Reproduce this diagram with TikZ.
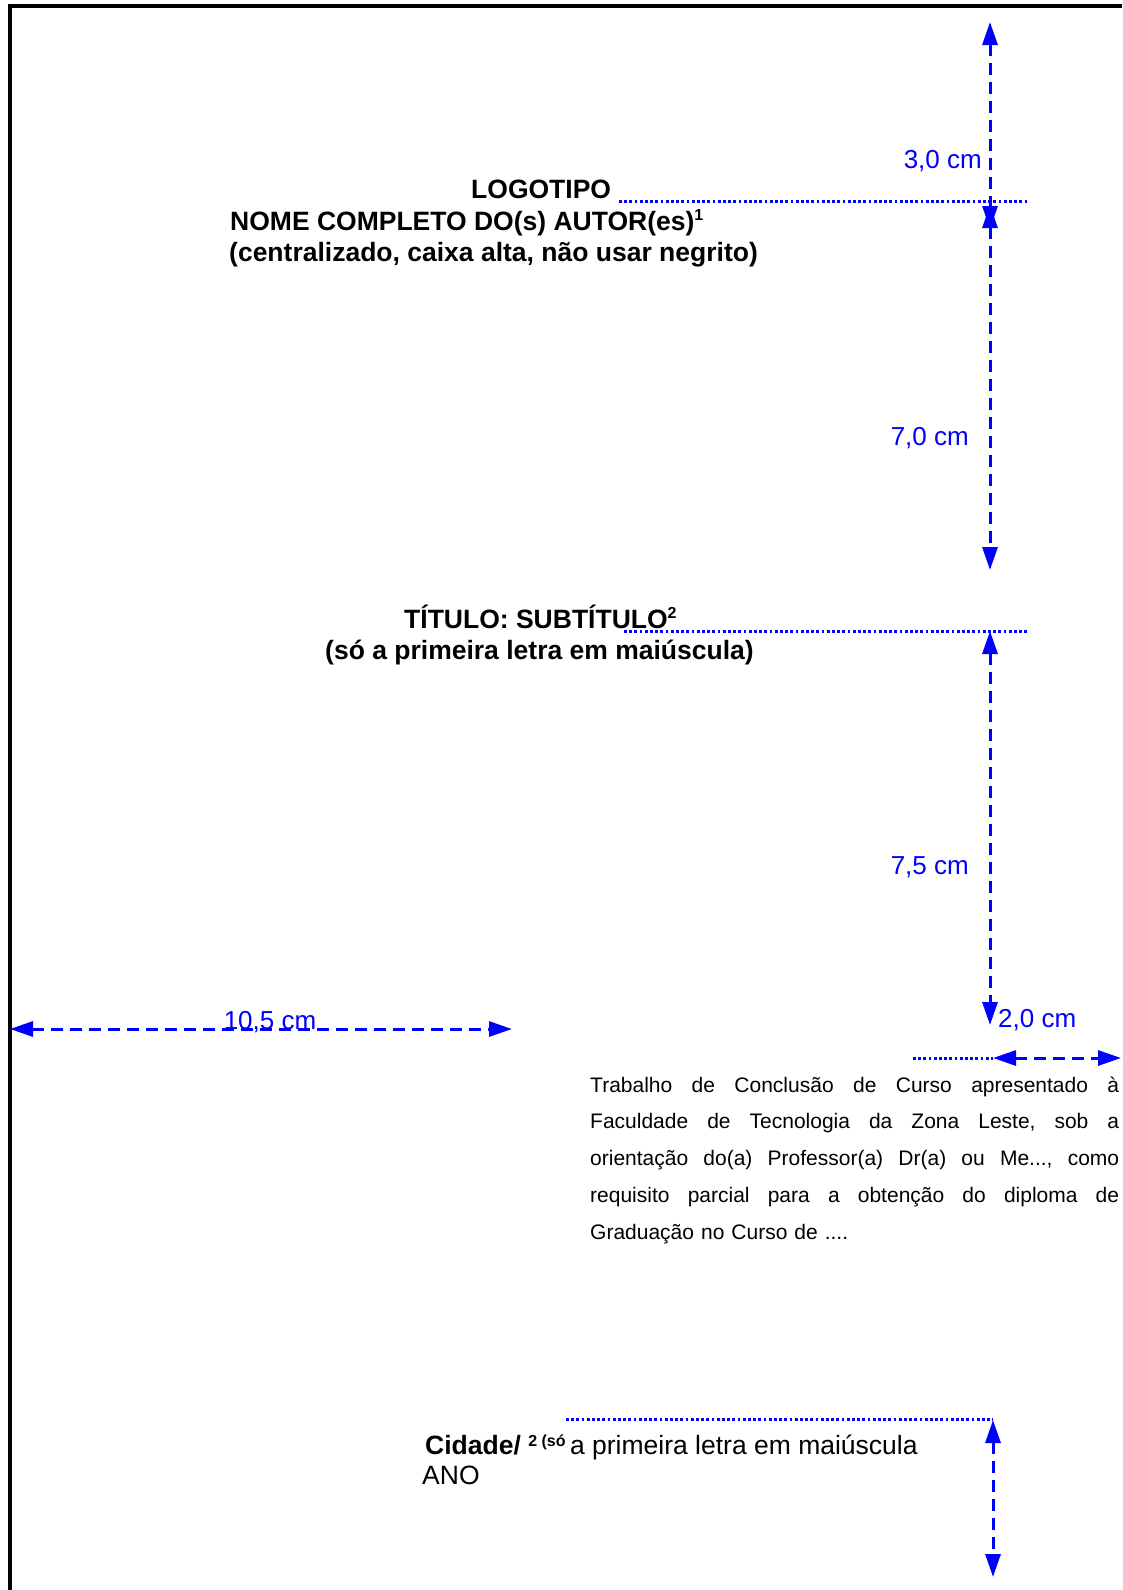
\documentclass[tikz,border=0pt]{standalone}
\usepackage{fontspec}
\setmainfont{Liberation Sans}
\usetikzlibrary{arrows.meta}
\definecolor{dimblue}{RGB}{0,0,255}
\newcommand\jline[1]{\makebox[529pt][l]{#1}}
\newcommand\supnum[1]{\raisebox{10pt}{\fontsize{16}{16}\selectfont\bfseries #1}}
\tikzset{
  dimarrow/.style={draw=dimblue, line width=3pt, dash pattern=on 12pt off 7pt,
    {Triangle[length=23pt,width=15pt]}-{Triangle[length=23pt,width=15pt]}},
  guide/.style={draw=dimblue, line width=3pt, dash pattern=on 2.8pt off 2.4pt},
  dimlabel/.style={text=dimblue, inner sep=0pt, font=\fontsize{26}{30}\selectfont},
  boldtxt/.style={inner sep=0pt, font=\fontsize{26.5}{31}\selectfont\bfseries},
  plaintxt/.style={inner sep=0pt, font=\fontsize{26.5}{31}\selectfont},
  pageframe/.style={draw=black, line width=4pt, line join=miter},
}
\begin{document}
\begin{tikzpicture}[x=1pt,y=-1pt]
\useasboundingbox (0,0) rectangle (1122,1590);
% page frame
\coordinate (fTL) at (9.5,6);
\coordinate (fTR) at (1122,6);
\coordinate (fBL) at (9.5,1590);
\draw[pageframe] (fBL) -- (fTL) -- (fTR);

% guide (dotted) lines
\coordinate (g1s) at (619,201);  \coordinate (g1e) at (1027,201);
\coordinate (g2s) at (624,631);  \coordinate (g2e) at (1027,631);
\coordinate (g3s) at (913,1058); \coordinate (g3e) at (993,1058);
\coordinate (g4s) at (566,1419); \coordinate (g4e) at (993,1419);
\draw[guide] (g1s) -- (g1e);
\draw[guide] (g2s) -- (g2e);
\draw[guide] (g3s) -- (g3e);
\draw[guide] (g4s) -- (g4e);

% dimension arrows
\coordinate (a1s) at (990,22);   \coordinate (a1e) at (990,229);
\coordinate (a2s) at (990,205);  \coordinate (a2e) at (990,570);
\coordinate (a3s) at (990,631);  \coordinate (a3e) at (990,1025);
\coordinate (a4s) at (993,1420); \coordinate (a4e) at (993,1577);
\coordinate (h1s) at (10,1029);  \coordinate (h1e) at (512,1029);
\coordinate (h2s) at (993,1058); \coordinate (h2e) at (1121,1058);
\draw[dimarrow] (a1s) -- (a1e);
\draw[dimarrow] (a2s) -- (a2e);
\draw[dimarrow] (a3s) -- (a3e);
\draw[dimarrow] (a4s) -- (a4e);
\draw[dimarrow] (h1s) -- (h1e);
\draw[dimarrow] (h2s) -- (h2e);

% dimension labels
\node[dimlabel, anchor=base east] (l30) at (982,168) {3,0 cm};
\node[dimlabel, anchor=base east] (l70) at (969,445) {7,0 cm};
\node[dimlabel, anchor=base east] (l75) at (969,874) {7,5 cm};
\node[dimlabel, anchor=base] (l105) at (270,1029) {10,5 cm};
\node[dimlabel, anchor=base west] (l20) at (998,1027) {2,0 cm};

% texts
\node[boldtxt, anchor=base west] (logo) at (471,198.5) {LOGOTIPO};
\node[boldtxt, anchor=base west] (autor) at (230,230.5) {NOME COMPLETO DO(s) AUTOR(es)\supnum{1}};
\node[boldtxt, anchor=base west] (autorobs) at (229,261.5) {(centralizado, caixa alta, não usar negrito)};
\node[boldtxt, anchor=base west] (titulo) at (404,628.5) {TÍTULO: SUBTÍTULO\supnum{2}};
\node[boldtxt, anchor=base west] (tituloobs) at (325,659.5) {(só a primeira letra em maiúscula)};

\node[anchor=base west, inner sep=0pt, text width=529pt, align=left,
      font=\fontsize{21}{36.8}\selectfont] (tcc) at (590,1092)
  {\jline{Trabalho\hfill de\hfill Conclusão\hfill de\hfill Curso\hfill apresentado\hfill à}\\
   \jline{Faculdade\hfill de\hfill Tecnologia\hfill da\hfill Zona\hfill Leste,\hfill sob\hfill a}\\
   \jline{orientação\hfill do(a)\hfill Professor(a)\hfill Dr(a)\hfill ou\hfill Me...,\hfill como}\\
   \jline{requisito\hfill parcial\hfill para\hfill a\hfill obtenção\hfill do\hfill diploma\hfill de}\\
   Graduação no Curso de ....};

\node[plaintxt, anchor=base west] (cidade) at (425,1454)
  {{\bfseries Cidade/} \raisebox{8pt}{\fontsize{16}{16}\selectfont\bfseries 2 (só\ }a primeira letra em maiúscula};
\node[plaintxt, anchor=base west] (ano) at (422,1484) {ANO};
\end{tikzpicture}
\end{document}
